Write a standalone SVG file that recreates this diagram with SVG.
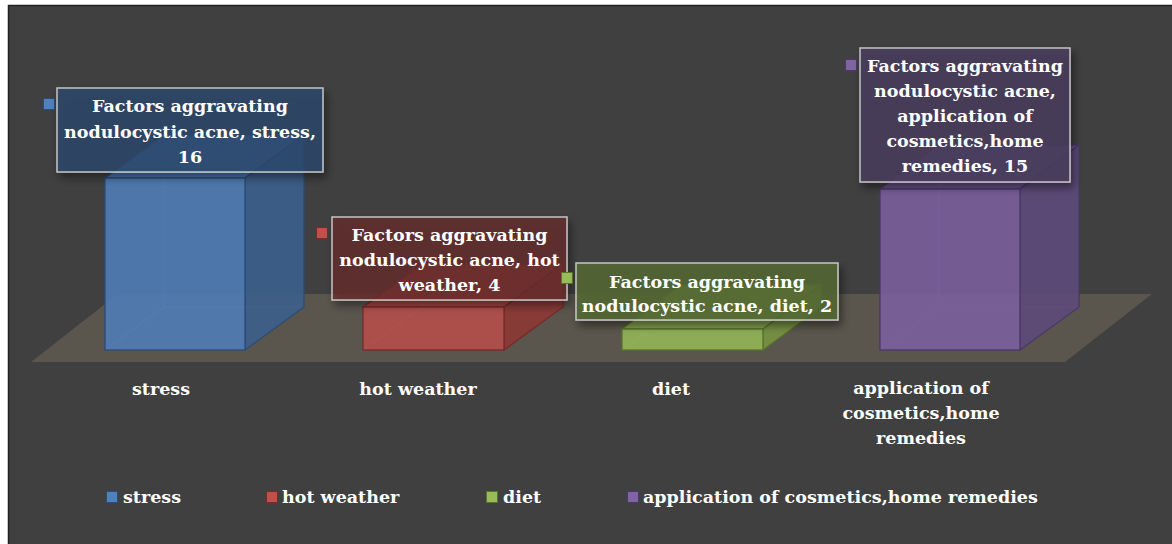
<svg xmlns="http://www.w3.org/2000/svg" width="1172" height="544" viewBox="0 0 1172 544">
<defs>
<filter id="sh" x="-10%" y="-10%" width="130%" height="140%">
<feGaussianBlur in="SourceAlpha" stdDeviation="4"/>
<feOffset dx="3" dy="5" result="b"/>
<feComponentTransfer><feFuncA type="linear" slope="0.55"/></feComponentTransfer>
<feMerge><feMergeNode/><feMergeNode in="SourceGraphic"/></feMerge>
</filter>
</defs>
<style>
text{font-family:"DejaVu Serif","Liberation Serif",serif;font-weight:bold;fill:#ffffff;font-size:17.5px}
.lbl{text-anchor:middle}
.box{stroke:#d9d9d9;stroke-opacity:0.85;stroke-width:1.5}
.hid{fill:none;stroke-width:1;stroke-opacity:0.35}
.face{stroke-width:1.3}
</style>
<rect width="1172" height="544" fill="#ffffff"/>
<rect x="8.5" y="5.5" width="1170" height="545" fill="#404040" stroke="#222222" stroke-width="1.5"/>
<polygon id="floor" points="31,362 118,294 1152,294 1065,362" fill="#5a564d"/>

<g id="bar-stress">
<path class="hid" stroke="#a9c4ea" d="M164,135 V307 H304 M105,350 L164,307"/>
<polygon class="face" points="105,178 164,135 304,135 245,178" fill="#4a78b2" fill-opacity="0.9" stroke="#2b4c78"/>
<polygon class="face" points="245,178 304,135 304,307 245,350" fill="#3b5f8d" fill-opacity="0.9" stroke="#2b4c78"/>
<rect class="face" x="105" y="178" width="140" height="172" fill="#4f7db8" fill-opacity="0.88" stroke="#2b4c78"/>
</g>
<g id="bar-hot-weather">
<path class="hid" stroke="#e8a8a6" d="M422,264 V307 H563 M363,350 L422,307"/>
<polygon class="face" points="363,307 422,264 563,264 504,307" fill="#a9443f" fill-opacity="0.9" stroke="#7a2a28"/>
<polygon class="face" points="504,307 563,264 563,307 504,350" fill="#8c3835" fill-opacity="0.9" stroke="#7a2a28"/>
<rect class="face" x="363" y="307" width="141" height="43" fill="#b54f4b" fill-opacity="0.9" stroke="#7a2a28"/>
</g>
<g id="bar-diet">
<path class="hid" stroke="#d1e3ad" d="M681,285 V307 H821 M622,350 L681,307"/>
<polygon class="face" points="622,329 681,285 821,285 763,329" fill="#86a44d" fill-opacity="0.9" stroke="#56742a"/>
<polygon class="face" points="763,329 821,285 821,307 763,350" fill="#779443" fill-opacity="0.9" stroke="#56742a"/>
<rect class="face" x="622" y="329" width="141" height="21" fill="#93b257" fill-opacity="0.92" stroke="#56742a"/>
</g>
<g id="bar-cosmetics">
<path class="hid" stroke="#c4b2dc" d="M939,145 V307 H1079 M880,350 L939,307"/>
<polygon class="face" points="880,189 939,145 1079,145 1020,189" fill="#6b5290" fill-opacity="0.9" stroke="#4a3868"/>
<polygon class="face" points="1020,189 1079,145 1079,307 1020,350" fill="#5d4a7b" fill-opacity="0.9" stroke="#4a3868"/>
<rect class="face" x="880" y="189" width="140" height="161" fill="#7a5f9c" fill-opacity="0.9" stroke="#4a3868"/>
</g>

<g id="label-stress">
<rect x="43.5" y="98.5" width="11" height="11" fill="#4f81bd" stroke="#2b4c78"/>
<rect class="box" x="57" y="88" width="266" height="84" fill="#2c4a70" fill-opacity="0.75" filter="url(#sh)"/>
<text class="lbl" x="190" y="112">Factors aggravating</text>
<text class="lbl" x="190" y="138">nodulocystic acne, stress,</text>
<text class="lbl" x="190" y="163">16</text>
</g>
<g id="label-hot-weather">
<rect x="316.5" y="227.5" width="11" height="11" fill="#c0504d" stroke="#7a2a28"/>
<rect class="box" x="332" y="217" width="235" height="83" fill="#6a2f2e" fill-opacity="0.72" filter="url(#sh)"/>
<text class="lbl" x="449.5" y="241">Factors aggravating</text>
<text class="lbl" x="449.5" y="266">nodulocystic acne, hot</text>
<text class="lbl" x="449.5" y="291">weather, 4</text>
</g>
<g id="label-diet">
<rect x="561.5" y="272.5" width="11" height="11" fill="#9bbb59" stroke="#56742a"/>
<rect class="box" x="576" y="263" width="262" height="57" fill="#566a34" fill-opacity="0.8" filter="url(#sh)"/>
<text class="lbl" x="707" y="288">Factors aggravating</text>
<text class="lbl" x="707" y="312">nodulocystic acne, diet, 2</text>
</g>
<g id="label-cosmetics">
<rect x="845.5" y="59.5" width="11" height="11" fill="#8064a2" stroke="#4a3868"/>
<rect class="box" x="860" y="48" width="210" height="134" fill="#4a3d5e" fill-opacity="0.8" filter="url(#sh)"/>
<text class="lbl" x="965" y="72">Factors aggravating</text>
<text class="lbl" x="965" y="97">nodulocystic acne,</text>
<text class="lbl" x="965" y="122">application of</text>
<text class="lbl" x="965" y="147">cosmetics,home</text>
<text class="lbl" x="965" y="172">remedies, 15</text>
</g>

<g id="axis-labels">
<text class="lbl" x="161" y="395">stress</text>
<text class="lbl" x="418" y="395">hot weather</text>
<text class="lbl" x="671" y="395">diet</text>
<text class="lbl" x="921" y="394">application of</text>
<text class="lbl" x="921" y="419">cosmetics,home</text>
<text class="lbl" x="921" y="444">remedies</text>
</g>

<g id="legend">
<rect x="106.5" y="491.5" width="11" height="11" fill="#4f81bd" stroke="#2b4c78"/>
<text x="123" y="503">stress</text>
<rect x="266.5" y="491.5" width="11" height="11" fill="#c0504d" stroke="#7a2a28"/>
<text x="282" y="503">hot weather</text>
<rect x="486.5" y="491.5" width="11" height="11" fill="#9bbb59" stroke="#56742a"/>
<text x="503" y="503">diet</text>
<rect x="627.5" y="491.5" width="11" height="11" fill="#8064a2" stroke="#4a3868"/>
<text x="643" y="503">application of cosmetics,home remedies</text>
</g>
</svg>
